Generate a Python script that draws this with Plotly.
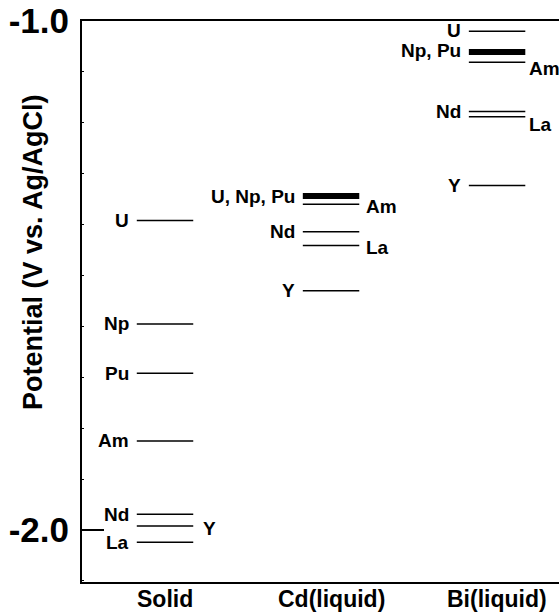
import plotly.graph_objects as go

# ---- data ----
categories = ["Solid", "Cd(liquid)", "Bi(liquid)"]

solid_elements = ["U", "Np", "Pu", "Am", "Nd", "Y", "La"]
solid_potentials = [-1.392, -1.595, -1.692, -1.825, -1.969, -1.992, -2.024]

cd_elements = ["U, Np, Pu", "Am", "Nd", "La", "Y"]
cd_potentials = [-1.344, -1.360, -1.414, -1.441, -1.530]

bi_elements = ["U", "Np, Pu", "Am", "Nd", "La", "Y"]
bi_potentials = [-1.020, -1.061, -1.081, -1.178, -1.188, -1.323]

y_tick_vals = [-1.0, -2.0]
y_tick_text = ["-1.0", "-2.0"]
y_title = "Potential (V vs. Ag/AgCl)"

# ---- style (label side, pixel nudges, line widths) ----
series = [
    (solid_elements, solid_potentials,
     ["L", "L", "L", "L", "L", "R", "L"], [0, 0, 0, 0, 0, -2, 0], [1.5] * 7, 8),
    (cd_elements, cd_potentials,
     ["L", "R", "L", "R", "L"], [0, -2, 0, -2, 0], [6, 1.5, 1.5, 1.5, 1.5], 5),
    (bi_elements, bi_potentials,
     ["L", "L", "R", "L", "R", "L"], [1, 2, -6, 0, -8, 0], [1.5, 6, 1.5, 1.5, 1.5, 1.5], 2),
]
HALF = 0.17
FONT = "Liberation Sans, Arial, sans-serif"
LABEL_SIZE = 19

fig = go.Figure()
annotations = []
for ci, (els, pots, sides, yshifts, widths, rshift) in enumerate(series):
    xc = ci + 0.5
    for el, p, side, ys, w in zip(els, pots, sides, yshifts, widths):
        fig.add_trace(go.Scatter(
            x=[xc - HALF, xc + HALF], y=[p, p], mode="lines",
            line=dict(color="black", width=w), showlegend=False, hoverinfo="skip"))
        if side == "L":
            annotations.append(dict(x=xc - HALF, y=p, xref="x", yref="y", text=f"<b>{el}</b>",
                                    xanchor="right", yanchor="middle", xshift=-6, yshift=ys,
                                    showarrow=False,
                                    font=dict(size=LABEL_SIZE, color="black", family=FONT)))
        else:
            annotations.append(dict(x=xc + HALF, y=p, xref="x", yref="y", text=f"<b>{el}</b>",
                                    xanchor="left", yanchor="middle", xshift=rshift, yshift=ys,
                                    showarrow=False,
                                    font=dict(size=LABEL_SIZE, color="black", family=FONT)))

# category labels under the axis
for ci, c in enumerate(categories):
    annotations.append(dict(x=ci + 0.5, y=0, xref="x", yref="paper", text=f"<b>{c}</b>",
                            xanchor="center", yanchor="top", yshift=-2, showarrow=False,
                            font=dict(size=23, color="black", family=FONT)))

annotations.append(dict(x=-0.103, y=0.588, xref="paper", yref="paper", text=f"<b>{y_title}</b>",
                        textangle=-90, showarrow=False, xanchor="center", yanchor="middle",
                        font=dict(size=27, color="black", family=FONT)))

fig.update_layout(
    width=559, height=614,
    margin=dict(l=82, r=0, t=21, b=32, autoexpand=False),
    paper_bgcolor="white", plot_bgcolor="white",
    font=dict(family=FONT, color="black"),
    annotations=annotations,
    xaxis=dict(
        range=[0, 2.873], showgrid=False, zeroline=False,
        showline=True, linecolor="black", linewidth=2, mirror=True,
        showticklabels=False, ticks="",
    ),
    yaxis=dict(
        range=[-2.102, -1.0], showgrid=False, zeroline=False,
        showline=True, linecolor="black", linewidth=2, mirror=False,
        tickvals=y_tick_vals, ticktext=[f"<b>{t}</b>" for t in y_tick_text],
        ticks="inside", ticklen=22, tickwidth=1.5, tickcolor="black",
        tickfont=dict(size=35, family=FONT, color="black"),
        ticklabelstandoff=4,
        minor=dict(ticks="inside", ticklen=2, tickwidth=1, tickcolor="black",
                   dtick=0.1, tick0=-1.0),
    ),
)

fig.write_html("out.html")
